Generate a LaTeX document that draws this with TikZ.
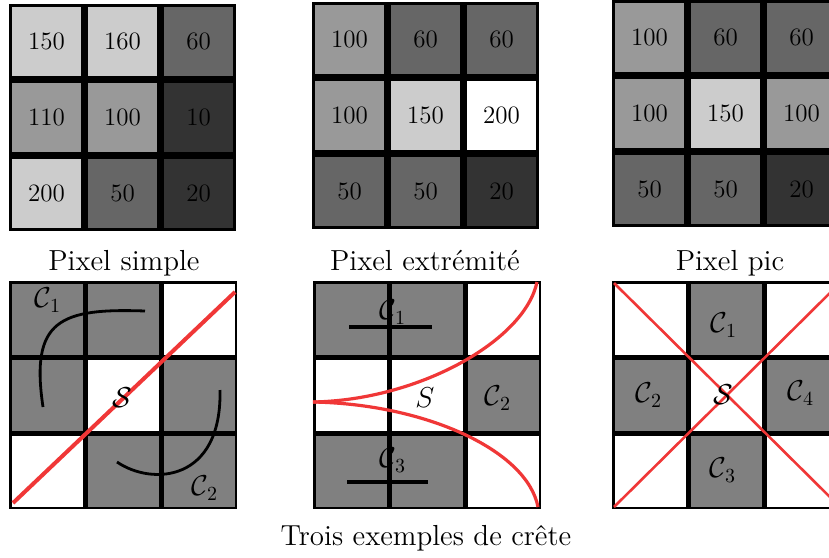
\documentclass[tikz,border=0pt]{standalone}
\usepackage{fontspec}
\usepackage{amsmath}
\usepackage{amssymb}
\usepackage{tikz}
\usepackage{xcolor}

\definecolor{clair}{gray}{0.8}
\definecolor{moyen}{gray}{0.6}
\definecolor{fonce}{gray}{0.4}
\definecolor{sombre}{gray}{0.2}
\definecolor{gris}{gray}{0.5}
\definecolor{rouge}{RGB}{240,55,55}

\tikzset{
  valeur/.style={font=\fontsize{12.5}{14}\selectfont},
  legende/.style={font=\fontsize{14.5}{17}\selectfont, anchor=base},
  etiquette/.style={font=\fontsize{14}{16}\selectfont, inner sep=0pt},
  crete/.style={rouge, line width=2pt},
  composante/.style={black, line width=1.4pt},
}

\begin{document}
\begin{tikzpicture}[x=0.5pt,y=-0.5pt]
  \clip (0,0) rectangle (829,557);
  \fill[white] (0,0) rectangle (829,557);

  % ligne du haut : niveaux de gris
  \begin{scope}[shift={(9,4)}]
    \fill[black] (0,0) rectangle (227,227);
    \foreach \c/\r/\g/\v in {0/0/clair/150, 1/0/clair/160, 2/0/fonce/60,
                             0/1/moyen/110, 1/1/moyen/100, 2/1/sombre/10,
                             0/2/clair/200, 1/2/fonce/50, 2/2/sombre/20}{
      \fill[\g] ({3+\c*76},{3+\r*76}) rectangle ++(69,69);
      \node[valeur] (simple-\c\r) at ({37.5+\c*76},{37.5+\r*76}) {\v};
    }
  \end{scope}
  \begin{scope}[shift={(312,2)}]
    \fill[black] (0,0) rectangle (227,227);
    \foreach \c/\r/\g/\v in {0/0/moyen/100, 1/0/fonce/60, 2/0/fonce/60,
                             0/1/moyen/100, 1/1/clair/150, 2/1/white/200,
                             0/2/fonce/50, 1/2/fonce/50, 2/2/sombre/20}{
      \fill[\g] ({3+\c*76},{3+\r*76}) rectangle ++(69,69);
      \node[valeur] (extr-\c\r) at ({37.5+\c*76},{37.5+\r*76}) {\v};
    }
  \end{scope}
  \begin{scope}[shift={(612,0)}]
    \fill[black] (0,0) rectangle (227,227);
    \foreach \c/\r/\g/\v in {0/0/moyen/100, 1/0/fonce/60, 2/0/fonce/60,
                             0/1/moyen/100, 1/1/clair/150, 2/1/moyen/100,
                             0/2/fonce/50, 1/2/fonce/50, 2/2/sombre/20}{
      \fill[\g] ({3+\c*76},{3+\r*76}) rectangle ++(69,69);
      \node[valeur] (pic-\c\r) at ({37.5+\c*76},{37.5+\r*76}) {\v};
    }
  \end{scope}

  \node[legende] (leg-simple) at (124,270) {Pixel simple};
  \node[legende] (leg-extr) at (425,270) {Pixel extrémité};
  \node[legende] (leg-pic) at (730,270) {Pixel pic};

  % ligne du bas : cretes
  \begin{scope}[shift={(9,281)}]
    \fill[black] (0,0) rectangle (228,228);
    \foreach \c/\r/\g in {0/0/gris, 1/0/gris, 2/0/white,
                          0/1/gris, 1/1/white, 2/1/gris,
                          0/2/white, 1/2/gris, 2/2/gris}{
      \fill[\g] ({2.5+\c*76},{2.5+\r*76}) rectangle ++(71.5,71.5);
    }
  \end{scope}
  \begin{scope}[shift={(313,281)}]
    \fill[black] (0,0) rectangle (228,228);
    \foreach \c/\r/\g in {0/0/gris, 1/0/gris, 2/0/white,
                          0/1/white, 1/1/white, 2/1/gris,
                          0/2/gris, 1/2/gris, 2/2/white}{
      \fill[\g] ({2.5+\c*76},{2.5+\r*76}) rectangle ++(71.5,71.5);
    }
  \end{scope}
  \begin{scope}[shift={(612,281)}]
    \fill[black] (0,0) rectangle (228,228);
    \foreach \c/\r/\g in {0/0/white, 1/0/gris, 2/0/white,
                          0/1/gris, 1/1/white, 2/1/gris,
                          0/2/white, 1/2/gris, 2/2/white}{
      \fill[\g] ({2.5+\c*76},{2.5+\r*76}) rectangle ++(71.5,71.5);
    }
  \end{scope}

  % pixel simple
  \draw[composante] (43,407) .. controls (30,320) and (60,308) .. (145,311);
  \draw[composante] (117,462) .. controls (152,486) and (222,482) .. (220,390);
  \draw[crete] (13,503) -- (235,292);
  \node[etiquette] (c1-simple) at (48,300) {$\mathcal{C}_1$};
  \node[etiquette] (c2-simple) at (205,488) {$\mathcal{C}_2$};
  \node[etiquette] (s-simple) at (122,398) {$\mathcal{S}$};

  % pixel extremite
  \draw[black, line width=2pt] (349,327) -- (432,327);
  \draw[black, line width=2pt] (347,482) -- (428,482);
  \draw[crete, line width=1.6pt] (313,402) .. controls (420,400) and (525,340) .. (537,282);
  \draw[crete, line width=1.6pt] (313,402) .. controls (425,404) and (527,450) .. (538,507);
  \node[etiquette] (c1-extr) at (393,312) {$\mathcal{C}_1$};
  \node[etiquette] (c3-extr) at (393,460) {$\mathcal{C}_3$};
  \node[etiquette] (c2-extr) at (498,398) {$\mathcal{C}_2$};
  \node[etiquette] (s-extr) at (425,398) {$S$};

  % pixel pic
  \draw[crete, line width=1.3pt] (614,283) -- (840,507);
  \draw[crete, line width=1.3pt] (614,507) -- (840,283);
  \node[etiquette] (c1-pic) at (724,325) {$\mathcal{C}_1$};
  \node[etiquette] (c2-pic) at (649,395) {$\mathcal{C}_2$};
  \node[etiquette] (c3-pic) at (723,470) {$\mathcal{C}_3$};
  \node[etiquette] (c4-pic) at (801,393) {$\mathcal{C}_4$};
  \node[etiquette] (s-pic) at (723,395) {$\mathcal{S}$};

  \node[legende] (titre) at (426,545) {Trois exemples de crête};
\end{tikzpicture}
\end{document}
